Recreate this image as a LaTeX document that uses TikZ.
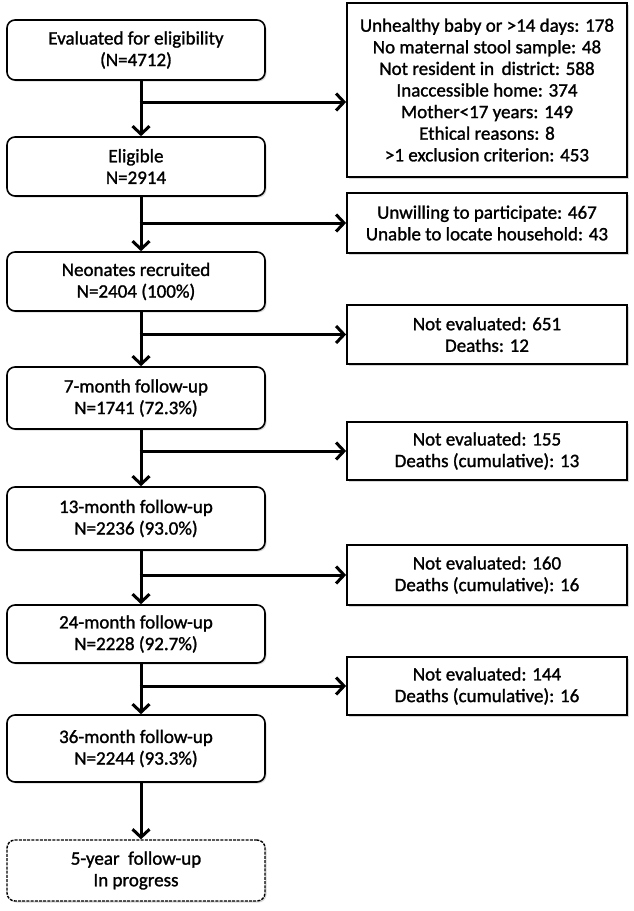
\documentclass[tikz,border=0pt]{standalone}
\usepackage{fontspec}
\setmainfont[FakeBold=1.3]{Carlito}
\usetikzlibrary{arrows.meta,shadows}
\begin{document}
\begin{tikzpicture}[x=1pt,y=1pt,
  txt/.style={font=\fontsize{19}{21.6}\selectfont, align=center, inner sep=0pt},
  lbox/.style={txt, draw, line width=1.6pt, rounded corners=8pt, fill=white,
    minimum width=258, drop shadow={shadow xshift=1.5pt, shadow yshift=-1.5pt, opacity=0.3}},
  rbox/.style={txt, draw, line width=1.8pt, fill=white,
    minimum width=280, drop shadow={shadow xshift=1.5pt, shadow yshift=-1.5pt, opacity=0.3}},
  dbox/.style={lbox, line width=1.4pt, dash pattern=on 3pt off 1.2pt},
  arr/.style={line width=3pt, -{Straight Barb[length=8pt,width=17pt,line width=3pt]}}]
\useasboundingbox[fill=white] (0,0) rectangle (633,-911);

% left column
\node[lbox, minimum height=60] (B1) at (136,-50) {Evaluated for eligibility\\(N=4712)};
\node[lbox, minimum height=59] (B2) at (136,-166.5) {Eligible\\N=2914};
\node[lbox, minimum height=59] (B3) at (136,-281.5) {Neonates recruited\\N=2404 (100\%)};
\node[lbox, minimum height=62] (B4) at (136,-398) {7-month follow-up\\N=1741 (72.3\%)};
\node[lbox, minimum height=63] (B5) at (136,-518.5) {13-month follow-up\\N=2236 (93.0\%)};
\node[lbox, minimum height=58] (B6) at (136,-634) {24-month follow-up\\N=2228 (92.7\%)};
\node[lbox, minimum height=67] (B7) at (136,-748.5) {36-month follow-up\\N=2244 (93.3\%)};
\node[dbox, minimum height=61] (B8) at (136,-870.5) {5-year\ \ follow-up\\In progress};

% right column
\node[rbox, minimum height=174] (R1) at (487,-90) {Unhealthy baby or {>}14 days: 178\\No maternal stool sample: 48\\Not resident in\ \,district: 588\\Inaccessible home: 374\\Mother{<}17 years: 149\\Ethical reasons: 8\\{>}1 exclusion criterion: 453};
\node[rbox, minimum height=60] (R2) at (487,-223) {Unwilling to participate: 467\\Unable to locate household: 43};
\node[rbox, minimum height=59] (R3) at (487,-334.5) {Not evaluated: 651\\Deaths: 12};
\node[rbox, minimum height=58] (R4) at (487,-451) {Not evaluated: 155\\Deaths (cumulative): 13};
\node[rbox, minimum height=60] (R5) at (487,-575) {Not evaluated: 160\\Deaths (cumulative): 16};
\node[rbox, minimum height=58] (R6) at (487,-686) {Not evaluated: 144\\Deaths (cumulative): 16};

% guide coordinates
\coordinate (xa) at (141,0);
\coordinate (j1) at (141,-102);

% main flow
\draw[arr] (B1.south -| xa) -- (B2.north -| xa);
\draw[arr] (B2.south -| xa) -- (B3.north -| xa);
\draw[arr] (B3.south -| xa) -- (B4.north -| xa);
\draw[arr] (B4.south -| xa) -- (B5.north -| xa);
\draw[arr] (B5.south -| xa) -- (B6.north -| xa);
\draw[arr] (B6.south -| xa) -- (B7.north -| xa);
\draw[arr] (B7.south -| xa) -- (B8.north -| xa);

% branches
\draw[arr] ([xshift=-1.5pt]j1) -- (j1 -| R1.west);
\draw[arr] ([xshift=-1.5pt]xa |- R2.west) -- (R2.west);
\draw[arr] ([xshift=-1.5pt]xa |- R3.west) -- (R3.west);
\draw[arr] ([xshift=-1.5pt]xa |- R4.west) -- (R4.west);
\draw[arr] ([xshift=-1.5pt]xa |- R5.west) -- (R5.west);
\draw[arr] ([xshift=-1.5pt]xa |- R6.west) -- (R6.west);
\end{tikzpicture}
\end{document}
